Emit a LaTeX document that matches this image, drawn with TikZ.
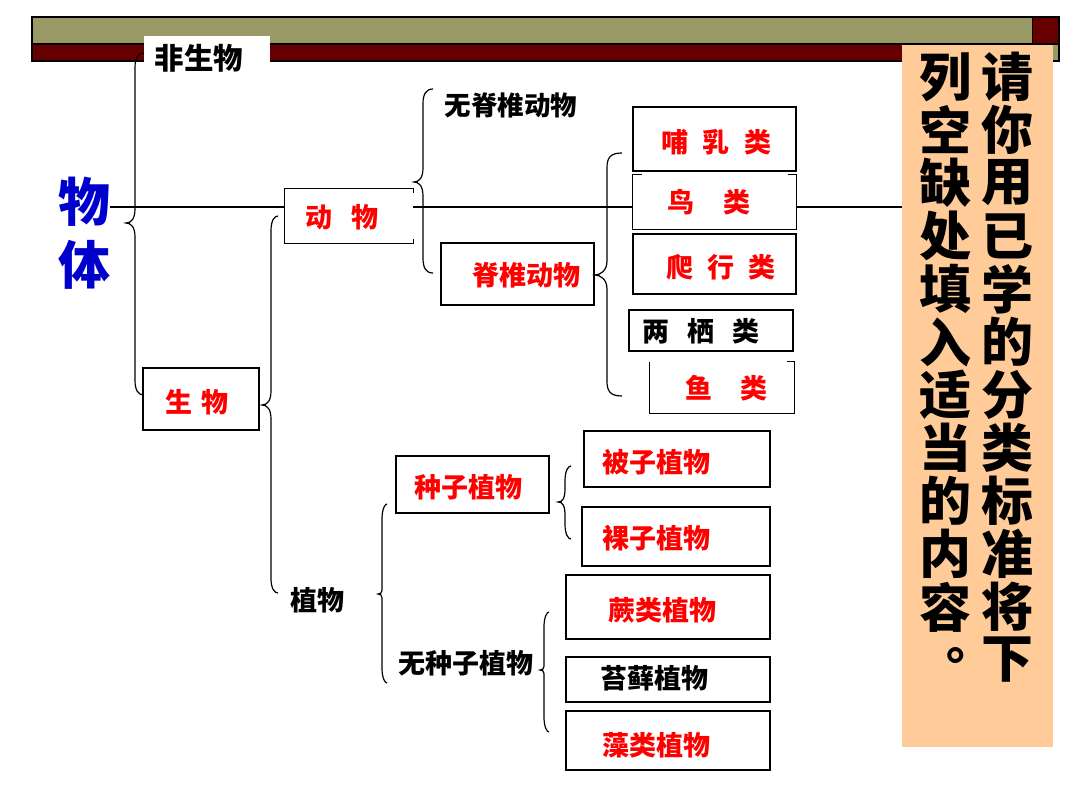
\documentclass[tikz,border=0pt]{standalone}
\usepackage{fontspec}
\newfontfamily\cjk{Noto Sans CJK SC}
\definecolor{olivebar}{RGB}{153,153,102}
\definecolor{darkbar}{RGB}{102,0,0}
\definecolor{peach}{RGB}{255,204,153}
\definecolor{txtred}{RGB}{255,0,0}
\definecolor{txtblue}{RGB}{0,0,204}
\newcommand\mybrace[6]{% xr xv xt yt ym yb
  \draw[brc] (#1,#4) .. controls (#2+3,#4) and (#2,#4+5) .. (#2,#4+15)
    -- (#2,#5-14) .. controls (#2,#5-4) and (#3+5,#5) .. (#3,#5)
    .. controls (#3+5,#5) and (#2,#5+4) .. (#2,#5+14)
    -- (#2,#6-15) .. controls (#2,#6-5) and (#2+3,#6) .. (#1,#6);}
\begin{document}
\begin{tikzpicture}[x=1pt,y=-1pt,
  bx/.style={draw=black, line width=1.3pt, fill=white, inner sep=0pt},
  wbx/.style={fill=white, inner sep=0pt},
  thk/.style={line width=2pt},
  bl/.style={line width=1.3pt},
  lb/.style={font=\cjk\bfseries\fontsize{27}{27}\selectfont, inner sep=0pt},
  lbs/.style={font=\cjk\bfseries\fontsize{26.5}{26.5}\selectfont, inner sep=0pt},
  rd/.style={text=txtred},
  brc/.style={line width=1.2pt},
  ptxt/.style={font=\cjk\bfseries\fontsize{52}{52}\selectfont, inner sep=0pt},
]
\useasboundingbox (0,0) rectangle (1080,810);
\fill[white] (0,0) rectangle (1080,810);
% header
\fill[olivebar] (32,17) rectangle (1032,44);
\fill[darkbar] (1032,17) rectangle (1059,44);
\fill[darkbar] (32,44) rectangle (1032,61);
\fill[olivebar] (1032,44) rectangle (1059,61);
\draw[line width=1.6pt] (32,17) rectangle (1059,61);
\draw[line width=1.4pt] (32,44) -- (1059,44);
\draw[line width=1pt] (1032,17) -- (1032,44);
% white label box over header
\fill[white] (144,36) rectangle (270,75);
% panel
\node[fill=peach, minimum width=151pt, minimum height=702pt, inner sep=0pt] (panel) at (977.5,396) {};
% main line
\coordinate (lstart) at (110,207);
\draw[brc] (lstart) -- (lstart -| panel.west);
% boxes
\node[wbx, minimum width=128pt, minimum height=54pt] (dongwu) at (349,216) {};
\draw[bl] ([yshift=-4pt]dongwu.north east) -- (dongwu.north east) -- (dongwu.north west) -- (dongwu.south west) -- (dongwu.south east) -- ([yshift=4pt]dongwu.south east);
\node[bx, minimum width=153pt, minimum height=62pt] (jizhui) at (517.5,274) {};
\node[bx, minimum width=163pt, minimum height=64pt] (bru) at (714.5,139) {};
\node[wbx, minimum width=163pt, minimum height=54pt] (niao) at (714.5,202) {};
\draw[bl] ([xshift=9pt]niao.north west) -- (niao.north west) -- (niao.south west) -- (niao.south east) -- (niao.north east) -- ([xshift=-8pt]niao.north east);
\node[bx, minimum width=163pt, minimum height=60pt] (pa) at (714.5,264) {};
\node[bx, thk, minimum width=164pt, minimum height=41pt] (liang) at (711,330.5) {};
\node[wbx, minimum width=144pt, minimum height=51pt] (yu) at (722,387.5) {};
\draw[bl] (yu.north west) -- (yu.south west) -- (yu.south east) -- (yu.north east) -- ([xshift=-7pt]yu.north east);
\node[bx, minimum width=116pt, minimum height=62pt] (shengwu) at (201,399) {};
\node[bx, thk, minimum width=153pt, minimum height=57pt] (zhongzi) at (472.5,484.5) {};
\node[bx, minimum width=186pt, minimum height=56pt] (beizi) at (677,459) {};
\node[bx, minimum width=188pt, minimum height=59pt] (luozi) at (676,536.5) {};
\node[bx, thk, minimum width=204pt, minimum height=64pt] (jue) at (668,607) {};
\node[bx, thk, minimum width=204pt, minimum height=45pt] (taixian) at (668,679.5) {};
\node[bx, minimum width=204pt, minimum height=59pt] (zao) at (668,740.5) {};
% braces
\mybrace{144}{135}{126}{53}{223}{395}
\mybrace{278}{271}{262}{216}{405}{593}
\mybrace{433}{423}{414}{89}{182}{273}
\mybrace{622}{607}{595}{153}{275}{396}
\mybrace{387}{382}{378}{504}{594}{683}
\mybrace{571}{565}{558}{466}{502}{539}
\mybrace{549}{544}{540}{612}{670}{732}
% texts
\node[ptxt, text=txtblue] (wu) at (84,202) {物};
\node[ptxt, text=txtblue] (ti) at (84,265) {体};
\node[lb, font=\cjk\bfseries\fontsize{29.5}{29.5}\selectfont] (feisw) at (199,58) {非生物};
\node[lbs] (wujz) at (511,105) {无脊椎动物};
\node[lb, rd] at (342,217) {动\hspace{19pt}物};
\node[lb, rd] at (526,275) {脊椎动物};
\node[lb, rd] at (716,142) {哺\hspace{14.5pt}乳\hspace{14.5pt}类};
\node[lb, rd] at (709,202) {鸟\hspace{29pt}类};
\node[lb, rd] at (721,267) {爬\hspace{14pt}行\hspace{14pt}类};
\node[lb] at (701,331) {两\hspace{18.5pt}栖\hspace{18.5pt}类};
\node[lb, rd] at (726,388) {鱼\hspace{28pt}类};
\node[lb, rd] at (197,402) {生\hspace{9pt}物};
\node[lb] (zhiwu) at (317,600) {植物};
\node[lb, rd] at (468,487) {种子植物};
\node[lb, rd] at (656,462) {被子植物};
\node[lb, rd] at (656,538) {裸子植物};
\node[lb] (wuzz) at (466,663) {无种子植物};
\node[lb, rd] at (662,610) {蕨类植物};
\node[lb] at (654,678) {苔藓植物};
\node[lb, rd] at (656,745) {藻类植物};
% panel text
\foreach \c [count=\i from 0] in {请,你,用,已,学,的,分,类,标,准,将,下}
  \node[ptxt] at (1007,77+53*\i) {\c};
\foreach \c [count=\i from 0] in {列,空,缺,处,填,入,适,当,的,内,容}
  \node[ptxt] at (945,77+53*\i) {\c};
\node[inner sep=0pt, anchor=base west, font=\cjk\bfseries\fontsize{48}{48}\selectfont] (dot) at (946,659) {\smash{\makebox[20pt][l]{。}}};
\end{tikzpicture}
\end{document}
